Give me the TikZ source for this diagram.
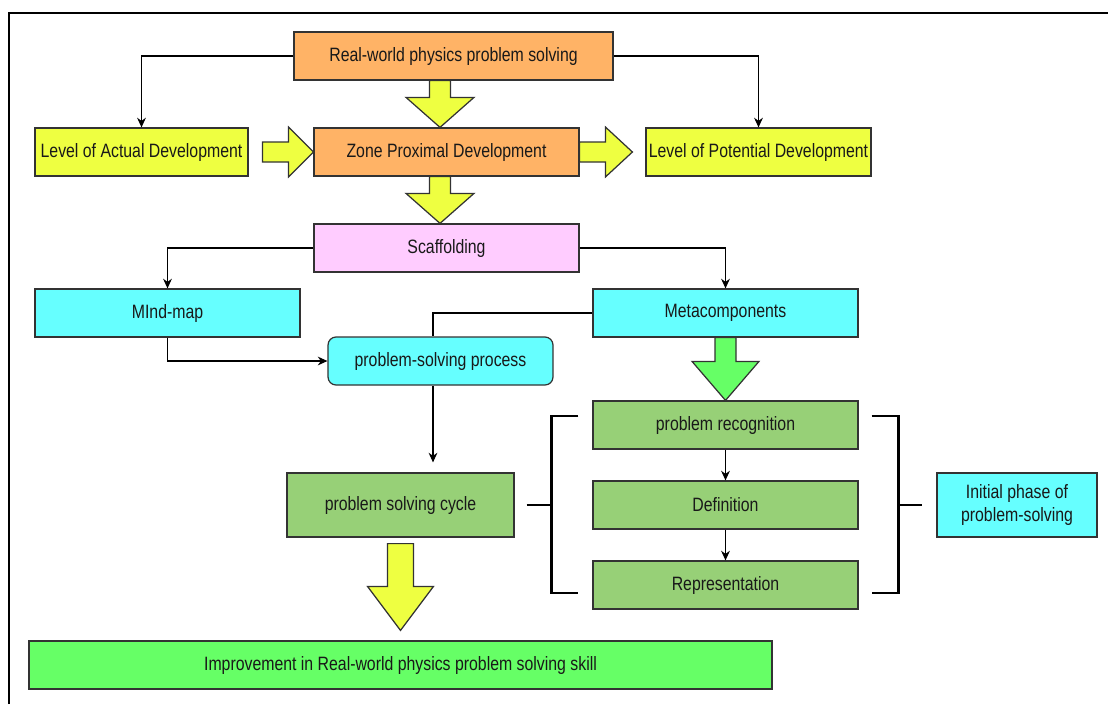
\documentclass[tikz,border=0pt]{standalone}
\usepackage{fontspec}
\setmainfont{Liberation Sans}[FakeStretch=0.82]
\usepackage{tikz}
\usetikzlibrary{arrows.meta,positioning,calc}
\definecolor{orangebox}{HTML}{FFB366}
\definecolor{yellowbox}{HTML}{EEFF41}
\definecolor{pinkbox}{HTML}{FFCCFF}
\definecolor{cyanbox}{HTML}{66FFFF}
\definecolor{greenbox}{HTML}{97D077}
\definecolor{limebox}{HTML}{66FF66}
\tikzstyle{stage}=[draw=black!80,line width=0.7pt,minimum height=0.96cm,inner sep=0pt,font=\fontsize{11}{13.6}\selectfont,text=black!90,align=center]
\tikzstyle{conn}=[line width=0.6pt,-{Stealth[length=5.5pt,width=5pt,inset=1.8pt]}]
\tikzstyle{bigarrow}=[draw=black!80,line width=0.7pt,line join=miter]
\tikzstyle{bracket}=[line width=1.4pt]
\newcommand{\downblock}[6]{%
  \draw[bigarrow,fill=#6] ($(#1)+(-#3,0)$) -- ($(#1 |- #2)+(-#3,-#5)$) -- ($(#1 |- #2)+(-#4,-#5)$)
    -- (#1 |- #2) -- ($(#1 |- #2)+(#4,-#5)$) -- ($(#1 |- #2)+(#3,-#5)$) -- ($(#1)+(#3,0)$) -- cycle;}
\newcommand{\rightblock}[6]{%
  \draw[bigarrow,fill=#6] ($(#1)+(0,-#3)$) -- ($(#2 |- #1)+(-#5,-#3)$) -- ($(#2 |- #1)+(-#5,-#4)$)
    -- (#2 |- #1) -- ($(#2 |- #1)+(-#5,#4)$) -- ($(#2 |- #1)+(-#5,#3)$) -- ($(#1)+(0,#3)$) -- cycle;}

\begin{document}
\begin{tikzpicture}[x=0.02cm,y=-0.02cm]
    \useasboundingbox (0,0) rectangle (1108,704);
    \draw[line width=1.1pt] (9,704) -- (9,13) -- (1108,13);

    \node [stage,fill=orangebox,minimum width=6.38cm] (real) at (453.5,56) {Real-world physics problem solving};
    \node [stage,fill=yellowbox,minimum width=4.26cm] (lad) at (141.5,152) {Level of Actual Development};
    \node [stage,fill=orangebox,minimum width=5.30cm] (zpd) at (446.5,152) {Zone Proximal Development};
    \node [stage,fill=yellowbox,minimum width=4.50cm] (lpd) at (758.5,152) {Level of Potential Development};
    \node [stage,fill=pinkbox,minimum width=5.30cm] (scaf) at (446.5,248) {Scaffolding};
    \node [stage,fill=cyanbox,minimum width=5.30cm] (mmap) at (167.5,313) {MInd-map};
    \node [stage,fill=cyanbox,minimum width=5.30cm] (meta) at (725.5,313) {Metacomponents};
    \node [stage,fill=cyanbox,minimum width=4.50cm,rounded corners=0.16cm] (psp) at (440.5,361) {problem-solving process};
    \node [stage,fill=greenbox,minimum width=4.54cm,minimum height=1.28cm] (pscycle) at (400.5,505) {problem solving cycle};
    \node [stage,fill=greenbox,minimum width=5.30cm] (recog) at (725.5,425) {problem recognition};
    \node [stage,fill=greenbox,minimum width=5.30cm] (defn) at (725.5,505) {Definition};
    \node [stage,fill=greenbox,minimum width=5.30cm] (repr) at (725.5,585) {Representation};
    \node [stage,fill=cyanbox,minimum width=3.20cm,minimum height=1.28cm] (initial) at (1017,505) {Initial phase of\\problem-solving};
    \node [stage,fill=limebox,minimum width=14.86cm] (improve) at (400.5,665) {Improvement in Real-world physics problem solving skill};

    \draw[conn] (real.west) -| (lad.north);
    \draw[conn] (real.east) -| (lpd.north);
    \draw[conn] (scaf.west) -| (mmap.north);
    \draw[conn] (scaf.east) -| (meta.north);
    \draw[conn] (mmap.south) |- (psp.west);
    \draw[line width=0.6pt] (meta.west) -| ($(psp.north)+(-7.5,0)$);
    \draw[conn,shorten >=0.2cm] ($(psp.south)+(-7.5,0)$) -- ($(psp.south |- pscycle.north)+(-7.5,0)$);
    \draw[conn] (recog.south) -- (defn.north);
    \draw[conn] (defn.south) -- (repr.north);

    \coordinate (zin) at ($(zpd.north)+(-6.5,0)$);
    \coordinate (rout) at ($(zpd.north |- real.south)+(-6.5,0)$);
    \coordinate (zout) at ($(zpd.south)+(-6.5,0)$);
    \coordinate (sin) at ($(scaf.north)+(-6.5,0)$);
    \coordinate (cout) at ($(pscycle.south)+(0,6)$);
    \coordinate (iin) at ($(improve.north)+(0,-10)$);
    \coordinate (lout) at ($(lad.east)+(14,0)$);
    \coordinate (pin) at ($(lpd.west)+(-13,0)$);
    \downblock{rout}{zin}{10.5}{34}{30}{yellowbox}
    \downblock{zout}{sin}{10.5}{34}{30}{yellowbox}
    \downblock{meta.south}{recog.north}{10.5}{33.5}{39}{limebox}
    \downblock{cout}{iin}{13}{33}{44}{yellowbox}
    \rightblock{lout}{zpd.west}{10}{25}{25}{yellowbox}
    \rightblock{zpd.east}{pin}{10}{25}{27}{yellowbox}

    \draw[bracket] ($(recog.west)+(-14,-9)$) -- ++(-27,0) |- ($(repr.west)+(-14,8)$);
    \draw[bracket] ($(pscycle.east)+(12,0)$) -- ($(defn.west)+(-41,0)$);
    \draw[bracket] ($(recog.east)+(13,-9)$) -- ++(27,0) |- ($(repr.east)+(13,8)$);
    \draw[bracket] ($(defn.east)+(40,0)$) -- ($(initial.west)+(-14,0)$);
\end{tikzpicture}
\end{document}
